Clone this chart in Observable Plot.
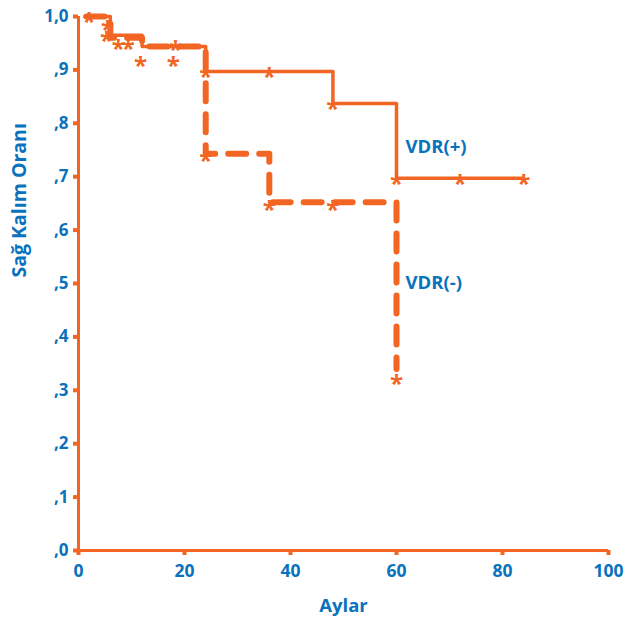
<!DOCTYPE html>
<html>
<head>
<meta charset="utf-8">
<script src="https://cdn.jsdelivr.net/npm/d3@7"></script>
<script src="https://cdn.jsdelivr.net/npm/@observablehq/plot@0.6"></script>
<style>
  html, body { margin: 0; padding: 0; background: #fff; }
</style>
</head>
<body>
<div id="chart"></div>
<script>
// Kaplan-Meier steps (months, survival)
const plusTimes = [1.5, 6, 12, 24, 48, 60, 84];
const plusSurv  = [1.0, 0.965, 0.944, 0.897, 0.837, 0.697, 0.697];
const minusTimes = [1.5, 6, 12, 24, 36, 60];
const minusSurv  = [1.0, 0.96, 0.944, 0.743, 0.652, 0.34];

// censoring marks
const plusCensX = [2, 5.5, 24, 36, 48, 60, 72, 84];
const plusCensY = [1.0, 0.985, 0.897, 0.897, 0.837, 0.697, 0.697, 0.697];
const minusCensX = [5.3, 7.5, 9.4, 11.7, 17.9, 18.3, 24, 36, 48, 60];
const minusCensY = [0.964, 0.949, 0.949, 0.918, 0.918, 0.947, 0.74, 0.648, 0.648, 0.322];

const xTicks = [0, 20, 40, 60, 80, 100];
const yTicks = [0, 0.1, 0.2, 0.3, 0.4, 0.5, 0.6, 0.7, 0.8, 0.9, 1.0];
const yTickLabels = [",0", ",1", ",2", ",3", ",4", ",5", ",6", ",7", ",8", ",9", "1,0"];

const seriesLabels = ["VDR(+)", "VDR(-)"];
const seriesLabelX = [61.7, 61.7];
const seriesLabelY = [0.755, 0.5];

const orange = "#f26522";
const blue = "#0a72bd";

const plus = plusTimes.map((t, i) => ({t, s: plusSurv[i]}));
const minus = minusTimes.map((t, i) => ({t, s: minusSurv[i]}));
const cens = [
  ...plusCensX.map((x, i) => ({x, y: plusCensY[i]})),
  ...minusCensX.map((x, i) => ({x, y: minusCensY[i]}))
];
const labels = seriesLabels.map((text, i) => ({text, x: seriesLabelX[i], y: seriesLabelY[i]}));

const chart = Plot.plot({
  width: 624,
  height: 620,
  marginLeft: 78,
  marginRight: 16,
  marginTop: 16,
  marginBottom: 70,
  style: {fontFamily: "'Open Sans', sans-serif", fontSize: "17px", fontWeight: 700, background: "#fff"},
  x: {domain: [0, 100]},
  y: {domain: [0, 1]},
  marks: [
    Plot.axisX({ticks: xTicks, tickSize: 5, tickPadding: 9, stroke: orange, strokeWidth: 4, fill: blue, color: blue, label: null, fontSize: 17.5}),
    Plot.axisY({ticks: yTicks, tickFormat: d => yTickLabels[yTicks.findIndex(v => Math.abs(v - d) < 1e-9)], tickSize: 5, tickPadding: 5, stroke: orange, strokeWidth: 4, fill: blue, label: null, fontSize: 17}),
    Plot.ruleY([0], {stroke: orange, strokeWidth: 3}),
    Plot.ruleX([0], {stroke: orange, strokeWidth: 3}),
    Plot.line(minus, {x: "t", y: "s", curve: "step-after", stroke: orange, strokeWidth: 6, strokeDasharray: "18,13"}),
    Plot.line(plus, {x: "t", y: "s", curve: "step-after", stroke: orange, strokeWidth: 3.5}),
    Plot.text(cens, {x: "x", y: "y", text: () => "*", fill: orange, fontSize: 24, fontWeight: 700, dy: 6}),
    Plot.text(labels, {x: "x", y: "y", text: "text", fill: blue, textAnchor: "start", fontSize: 18.5}),
    Plot.text(["Sağ Kalım Oranı"], {frameAnchor: "left", rotate: -90, dx: -59, dy: -6, fill: blue, fontSize: 19.5}),
    Plot.text(["Aylar"], {frameAnchor: "bottom", dy: 61, fill: blue, fontSize: 18.5})
  ]
});
document.getElementById("chart").appendChild(chart);
</script>
</body>
</html>
